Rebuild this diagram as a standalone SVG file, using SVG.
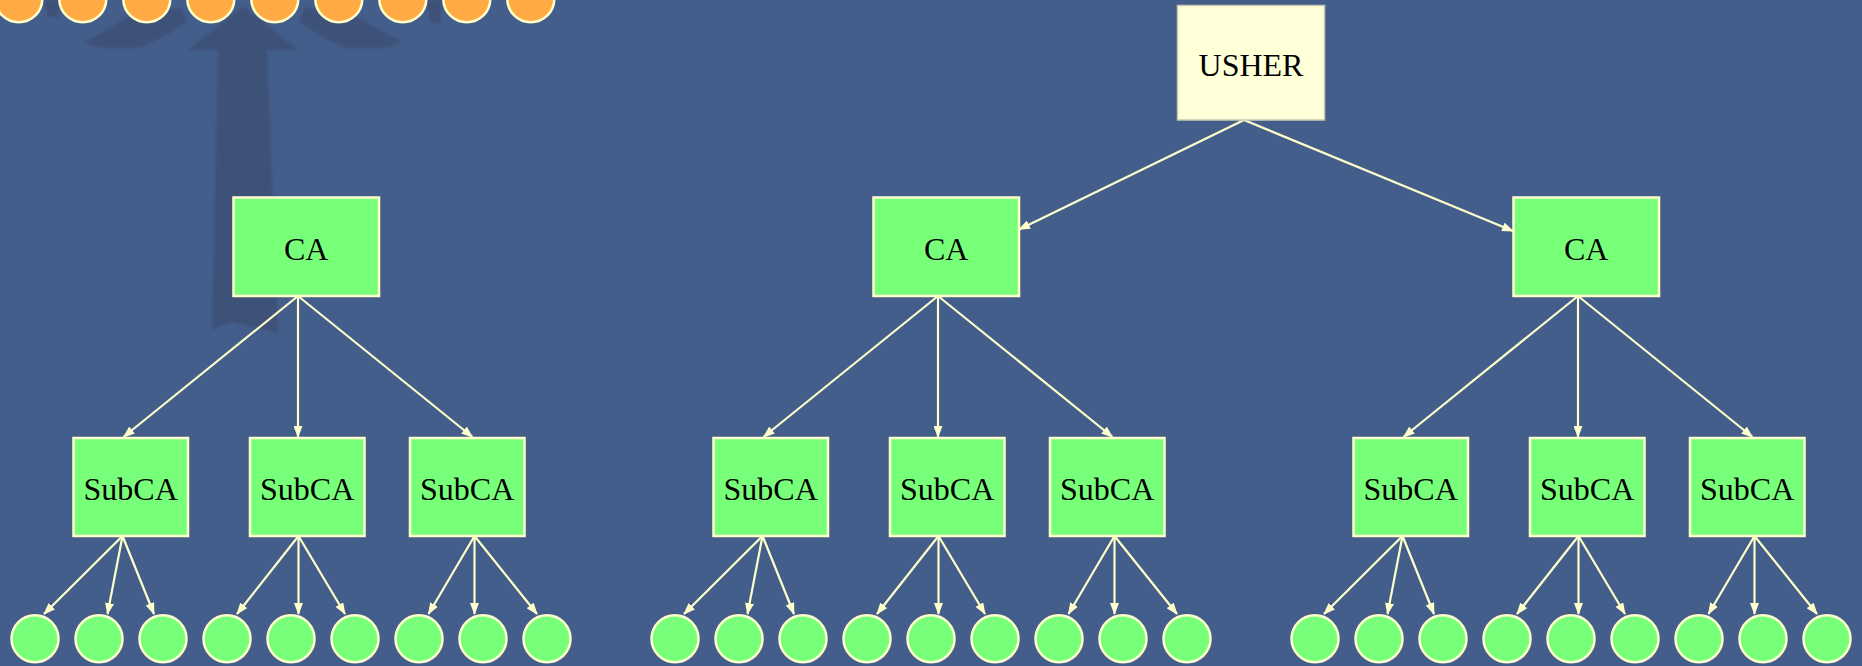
<svg xmlns="http://www.w3.org/2000/svg" width="1862" height="666" viewBox="0 0 1862 666">
  <defs>
    <style>
      .bg { fill: #445E8B; }
      .shadow { fill: #3C5179; }
      .box { fill: #77FF7A; stroke: #FFFFCC; stroke-width: 2.5; }
      .root { fill: #FFFFD8; stroke: #C9C9B4; stroke-width: 1.5; }
      .leaf { fill: #77FF7A; stroke: #FFFFCC; stroke-width: 2.5; }
      .top { fill: #FFAA44; stroke: #FFFFCC; stroke-width: 2.5; }
      .lbl { font-family: "Liberation Serif", "Times New Roman", serif; font-size: 32px; fill: #000; text-anchor: middle; }
      .edge { stroke: #FFFFCC; stroke-width: 2.2; fill: none; marker-end: url(#arrow); }
    </style>
    <marker id="arrow" markerUnits="userSpaceOnUse" viewBox="0 0 12 9" markerWidth="12" markerHeight="9" refX="11" refY="4.5" orient="auto">
      <path d="M0,0 L12,4.5 L0,9 z" fill="#FFFFCC"/>
    </marker>
    <filter id="soft" x="-10%" y="-10%" width="120%" height="120%">
      <feGaussianBlur stdDeviation="1.5"/>
    </filter>
  </defs>

  <rect class="bg" x="0" y="0" width="1862" height="666"/>

  <!-- faint backdrop silhouette behind the top row -->
  <g id="backdrop" filter="url(#soft)">
    <path class="shadow" d="M243,6 L298,50 L267,50 L278,333 L232,322 L212,330 L218,50 L188,50 Z"/>
    <path class="shadow" d="M83,42 L95,36 L127,18 L140,8 L182,8 L187,22 L167,35 L140,48 L100,48 Z"/>
    <path class="shadow" d="M403,42 L391,36 L359,18 L346,8 L304,8 L299,22 L319,35 L346,48 L386,48 Z"/>
    <path class="shadow" d="M44,0 L60,0 L58,18 L48,16 Z"/>
    <path class="shadow" d="M426,0 L442,0 L440,24 L430,22 Z"/>
  </g>

  <!-- top row of orange nodes, cut by the upper edge -->
  <g id="top-row">
    <circle class="top" cx="18.8" cy="-1.2" r="23.5"/>
    <circle class="top" cx="82.8" cy="-1.2" r="23.5"/>
    <circle class="top" cx="146.8" cy="-1.2" r="23.5"/>
    <circle class="top" cx="210.8" cy="-1.2" r="23.5"/>
    <circle class="top" cx="274.8" cy="-1.2" r="23.5"/>
    <circle class="top" cx="338.8" cy="-1.2" r="23.5"/>
    <circle class="top" cx="402.8" cy="-1.2" r="23.5"/>
    <circle class="top" cx="466.8" cy="-1.2" r="23.5"/>
    <circle class="top" cx="530.8" cy="-1.2" r="23.5"/>
  </g>

  <!-- connectors -->
  <g id="connectors">
    <line class="edge" x1="1244" y1="120" x2="1019" y2="229.4"/>
    <line class="edge" x1="1244" y1="120" x2="1513" y2="231"/>

    <!-- group 1 -->
    <line class="edge" x1="298" y1="296" x2="123.5" y2="437"/>
    <line class="edge" x1="298" y1="296" x2="298" y2="437"/>
    <line class="edge" x1="298" y1="296" x2="472.5" y2="437"/>
    <line class="edge" x1="122.5" y1="536" x2="44" y2="614"/>
    <line class="edge" x1="122.5" y1="536" x2="107.5" y2="614"/>
    <line class="edge" x1="122.5" y1="536" x2="154" y2="614"/>
    <line class="edge" x1="298.5" y1="536" x2="237" y2="614"/>
    <line class="edge" x1="298.5" y1="536" x2="298.5" y2="614"/>
    <line class="edge" x1="298.5" y1="536" x2="345" y2="614"/>
    <line class="edge" x1="474.5" y1="536" x2="428.5" y2="614"/>
    <line class="edge" x1="474.5" y1="536" x2="474.5" y2="614"/>
    <line class="edge" x1="474.5" y1="536" x2="537" y2="614"/>

    <!-- group 2 -->
    <line class="edge" x1="938" y1="296" x2="763.5" y2="437"/>
    <line class="edge" x1="938" y1="296" x2="938" y2="437"/>
    <line class="edge" x1="938" y1="296" x2="1112.5" y2="437"/>
    <line class="edge" x1="762.5" y1="536" x2="684" y2="614"/>
    <line class="edge" x1="762.5" y1="536" x2="747.5" y2="614"/>
    <line class="edge" x1="762.5" y1="536" x2="794" y2="614"/>
    <line class="edge" x1="938.5" y1="536" x2="877" y2="614"/>
    <line class="edge" x1="938.5" y1="536" x2="938.5" y2="614"/>
    <line class="edge" x1="938.5" y1="536" x2="985" y2="614"/>
    <line class="edge" x1="1114.5" y1="536" x2="1068.5" y2="614"/>
    <line class="edge" x1="1114.5" y1="536" x2="1114.5" y2="614"/>
    <line class="edge" x1="1114.5" y1="536" x2="1177" y2="614"/>

    <!-- group 3 -->
    <line class="edge" x1="1578" y1="296" x2="1403.5" y2="437"/>
    <line class="edge" x1="1578" y1="296" x2="1578" y2="437"/>
    <line class="edge" x1="1578" y1="296" x2="1752.5" y2="437"/>
    <line class="edge" x1="1402.5" y1="536" x2="1324" y2="614"/>
    <line class="edge" x1="1402.5" y1="536" x2="1387.5" y2="614"/>
    <line class="edge" x1="1402.5" y1="536" x2="1434" y2="614"/>
    <line class="edge" x1="1578.5" y1="536" x2="1517" y2="614"/>
    <line class="edge" x1="1578.5" y1="536" x2="1578.5" y2="614"/>
    <line class="edge" x1="1578.5" y1="536" x2="1625" y2="614"/>
    <line class="edge" x1="1754.5" y1="536" x2="1708.5" y2="614"/>
    <line class="edge" x1="1754.5" y1="536" x2="1754.5" y2="614"/>
    <line class="edge" x1="1754.5" y1="536" x2="1817" y2="614"/>
  </g>

  <!-- root -->
  <g id="usher">
    <rect class="root" x="1177.5" y="5.5" width="147" height="114.5"/>
    <text class="lbl" x="1251" y="76">USHER</text>
  </g>

  <!-- certificate authorities -->
  <g id="ca-1">
    <rect class="box" x="233.5" y="197.5" width="145.5" height="98.5"/>
    <text class="lbl" x="306.2" y="260">CA</text>
  </g>
  <g id="ca-2">
    <rect class="box" x="873.5" y="197.5" width="145.5" height="98.5"/>
    <text class="lbl" x="946.2" y="260">CA</text>
  </g>
  <g id="ca-3">
    <rect class="box" x="1513.5" y="197.5" width="145.5" height="98.5"/>
    <text class="lbl" x="1586.2" y="260">CA</text>
  </g>

  <!-- subordinate authorities -->
  <g id="subca-1-1"><rect class="box" x="73.5" y="438" width="114.5" height="98"/><text class="lbl" x="130.7" y="500">SubCA</text></g>
  <g id="subca-1-2"><rect class="box" x="250" y="438" width="114.5" height="98"/><text class="lbl" x="307.2" y="500">SubCA</text></g>
  <g id="subca-1-3"><rect class="box" x="410" y="438" width="114.5" height="98"/><text class="lbl" x="467.2" y="500">SubCA</text></g>
  <g id="subca-2-1"><rect class="box" x="713.5" y="438" width="114.5" height="98"/><text class="lbl" x="770.7" y="500">SubCA</text></g>
  <g id="subca-2-2"><rect class="box" x="890" y="438" width="114.5" height="98"/><text class="lbl" x="947.2" y="500">SubCA</text></g>
  <g id="subca-2-3"><rect class="box" x="1050" y="438" width="114.5" height="98"/><text class="lbl" x="1107.2" y="500">SubCA</text></g>
  <g id="subca-3-1"><rect class="box" x="1353.5" y="438" width="114.5" height="98"/><text class="lbl" x="1410.7" y="500">SubCA</text></g>
  <g id="subca-3-2"><rect class="box" x="1530" y="438" width="114.5" height="98"/><text class="lbl" x="1587.2" y="500">SubCA</text></g>
  <g id="subca-3-3"><rect class="box" x="1690" y="438" width="114.5" height="98"/><text class="lbl" x="1747.2" y="500">SubCA</text></g>

  <!-- end entities -->
  <g id="leaves-1">
    <circle id="leaf-1-1" class="leaf" cx="35" cy="638.7" r="23.5"/>
    <circle id="leaf-1-2" class="leaf" cx="99" cy="638.7" r="23.5"/>
    <circle id="leaf-1-3" class="leaf" cx="163" cy="638.7" r="23.5"/>
    <circle id="leaf-1-4" class="leaf" cx="227" cy="638.7" r="23.5"/>
    <circle id="leaf-1-5" class="leaf" cx="291" cy="638.7" r="23.5"/>
    <circle id="leaf-1-6" class="leaf" cx="355" cy="638.7" r="23.5"/>
    <circle id="leaf-1-7" class="leaf" cx="419" cy="638.7" r="23.5"/>
    <circle id="leaf-1-8" class="leaf" cx="483" cy="638.7" r="23.5"/>
    <circle id="leaf-1-9" class="leaf" cx="547" cy="638.7" r="23.5"/>
  </g>
  <g id="leaves-2">
    <circle id="leaf-2-1" class="leaf" cx="675" cy="638.7" r="23.5"/>
    <circle id="leaf-2-2" class="leaf" cx="739" cy="638.7" r="23.5"/>
    <circle id="leaf-2-3" class="leaf" cx="803" cy="638.7" r="23.5"/>
    <circle id="leaf-2-4" class="leaf" cx="867" cy="638.7" r="23.5"/>
    <circle id="leaf-2-5" class="leaf" cx="931" cy="638.7" r="23.5"/>
    <circle id="leaf-2-6" class="leaf" cx="995" cy="638.7" r="23.5"/>
    <circle id="leaf-2-7" class="leaf" cx="1059" cy="638.7" r="23.5"/>
    <circle id="leaf-2-8" class="leaf" cx="1123" cy="638.7" r="23.5"/>
    <circle id="leaf-2-9" class="leaf" cx="1187" cy="638.7" r="23.5"/>
  </g>
  <g id="leaves-3">
    <circle id="leaf-3-1" class="leaf" cx="1315" cy="638.7" r="23.5"/>
    <circle id="leaf-3-2" class="leaf" cx="1379" cy="638.7" r="23.5"/>
    <circle id="leaf-3-3" class="leaf" cx="1443" cy="638.7" r="23.5"/>
    <circle id="leaf-3-4" class="leaf" cx="1507" cy="638.7" r="23.5"/>
    <circle id="leaf-3-5" class="leaf" cx="1571" cy="638.7" r="23.5"/>
    <circle id="leaf-3-6" class="leaf" cx="1635" cy="638.7" r="23.5"/>
    <circle id="leaf-3-7" class="leaf" cx="1699" cy="638.7" r="23.5"/>
    <circle id="leaf-3-8" class="leaf" cx="1763" cy="638.7" r="23.5"/>
    <circle id="leaf-3-9" class="leaf" cx="1827" cy="638.7" r="23.5"/>
  </g>
</svg>
